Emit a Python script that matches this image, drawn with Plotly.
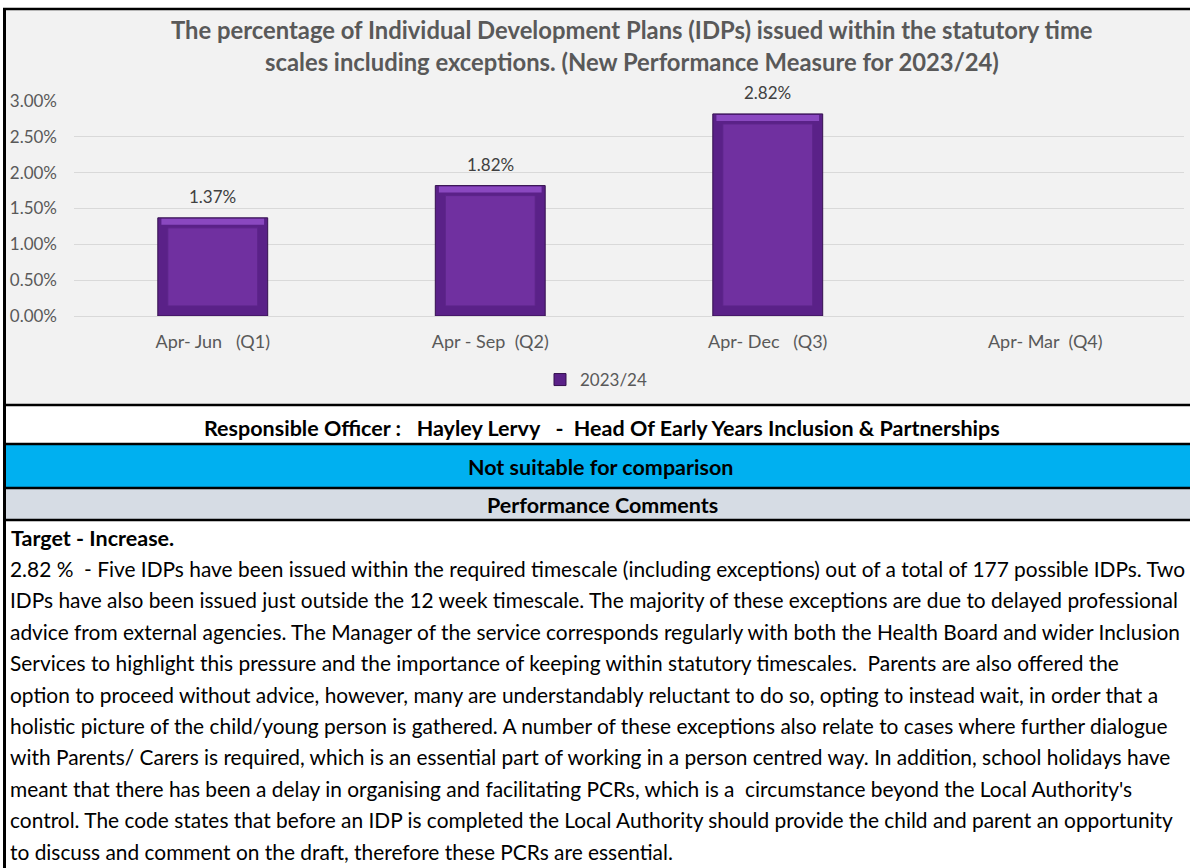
import plotly.graph_objects as go

NB = "\u00a0"
categories = ["Apr-" + NB + "Jun" + NB * 3 + "(Q1)",
              "Apr" + NB + "-" + NB + "Sep" + NB * 2 + "(Q2)",
              "Apr-" + NB + "Dec" + NB * 3 + "(Q3)",
              "Apr-" + NB + "Mar" + NB * 2 + "(Q4)"]
values = [0.0137, 0.0182, 0.0282, None]
series_name = "2023/24"
y_ticks = [0, 0.005, 0.01, 0.015, 0.02, 0.025, 0.03]

title_lines = ["The percentage of Individual Development Plans (IDPs) issued within the statutory time",
               "scales including exceptions. (New Performance Measure for 2023/24)"]
officer_text = ("Responsible Officer :" + NB * 3 + "Hayley Lervy" + NB * 3 + "-" + NB * 2 +
                "Head Of Early Years Inclusion & Partnerships")
comparison_text = "Not suitable for comparison"
comments_header = "Performance Comments"
target_text = "Target - Increase."
comment_lines = [
    "2.82 %" + NB + " - Five IDPs have been issued within the required timescale (including exceptions) out of a total of 177 possible IDPs. Two",
    "IDPs have also been issued just outside the 12 week timescale. The majority of these exceptions are due to delayed professional",
    "advice from external agencies. The Manager of the service corresponds regularly with both the Health Board and wider Inclusion",
    "Services to highlight this pressure and the importance of keeping within statutory timescales." + NB + " Parents are also offered the",
    "option to proceed without advice, however, many are understandably reluctant to do so, opting to instead wait, in order that a",
    "holistic picture of the child/young person is gathered. A number of these exceptions also relate to cases where further dialogue",
    "with Parents/ Carers is required, which is an essential part of working in a person centred way. In addition, school holidays have",
    "meant that there has been a delay in organising and facilitating PCRs, which is a" + NB + " circumstance beyond the Local Authority's",
    "control. The code states that before an IDP is completed the Local Authority should provide the child and parent an opportunity",
    "to discuss and comment on the draft, therefore these PCRs are essential.",
]

# ---- layout geometry (pixels) ----
W, H = 1190, 868
L, R = 74, 1184
T, B = 101, 316


def px(x):
    return (x - L) / (R - L)


def py(y):
    return (B - y) / (B - T)


FONT = "Lato"
GRAY = "#595959"
inset = 0.0014

fig = go.Figure()
fig.add_trace(go.Bar(x=categories, y=values, name=series_name, width=0.396,
                     marker=dict(color="#5A2188", line=dict(color="#35104F", width=1)),
                     showlegend=True, hoverinfo="skip"))
fig.add_trace(go.Bar(x=categories,
                     y=[inset * 0.6 if v is not None else None for v in values],
                     base=[v - inset * 0.7 if v is not None else None for v in values],
                     width=0.37, marker=dict(color="#8A48C0", line=dict(width=0)),
                     showlegend=False, hoverinfo="skip"))
fig.add_trace(go.Bar(x=categories,
                     y=[v - 2 * inset if v is not None else None for v in values],
                     base=[inset if v is not None else None for v in values],
                     width=0.324, marker=dict(color="#7030A0", line=dict(color="#5C2589", width=1)),
                     showlegend=False, hoverinfo="skip"))

annotations = []
for c, v in zip(categories, values):
    if v is None:
        continue
    annotations.append(dict(x=c, y=v, xref="x", yref="y", text=f"{v * 100:.2f}%",
                            showarrow=False, yshift=21, yanchor="middle",
                            font=dict(family=FONT, size=17, color="#404040")))

for i, (t, yy) in enumerate(zip(title_lines, [30, 62])):
    annotations.append(dict(x=px(632), y=py(yy), xref="paper", yref="paper", text="<b>" + t + "</b>",
                            showarrow=False, xanchor="center", yanchor="middle",
                            font=dict(family=FONT, size=23.8, color=GRAY)))

BIG = 21.5
annotations.append(dict(x=px(602), y=py(428), xref="paper", yref="paper", text="<b>" + officer_text + "</b>",
                        showarrow=False, xanchor="center", yanchor="middle",
                        font=dict(family=FONT, size=BIG, color="#000000")))
annotations.append(dict(x=px(600), y=py(467), xref="paper", yref="paper", text="<b>" + comparison_text + "</b>",
                        showarrow=False, xanchor="center", yanchor="middle",
                        font=dict(family=FONT, size=BIG, color="#000000")))
annotations.append(dict(x=px(602), y=py(504.5), xref="paper", yref="paper", text="<b>" + comments_header + "</b>",
                        showarrow=False, xanchor="center", yanchor="middle",
                        font=dict(family=FONT, size=BIG, color="#000000")))
annotations.append(dict(x=px(9), y=py(538), xref="paper", yref="paper", text="<b>" + target_text + "</b>",
                        showarrow=False, xanchor="left", yanchor="middle",
                        font=dict(family=FONT, size=BIG, color="#000000")))
for i, line in enumerate(comment_lines):
    annotations.append(dict(x=px(8), y=py(568.5 + i * 31.4), xref="paper", yref="paper", text=line,
                            showarrow=False, xanchor="left", yanchor="middle",
                            font=dict(family=FONT, size=20.9, color="#000000")))

shapes = [
    dict(type="rect", xref="paper", yref="paper", x0=px(5), x1=px(1190), y0=py(9), y1=py(405),
         fillcolor="#F2F2F2", line=dict(width=0), layer="below"),
    dict(type="rect", xref="paper", yref="paper", x0=px(5), x1=px(1190), y0=py(445), y1=py(487),
         fillcolor="#00B0F0", line=dict(width=0), layer="below"),
    dict(type="rect", xref="paper", yref="paper", x0=px(5), x1=px(1190), y0=py(489), y1=py(519),
         fillcolor="#D6DCE4", line=dict(width=0), layer="below"),
]
for yy, w in [(9, 2.5), (405, 2.5), (444, 2.5), (488, 2.5), (520, 2.5)]:
    shapes.append(dict(type="line", xref="paper", yref="paper", x0=px(3), x1=px(1190), y0=py(yy), y1=py(yy),
                       line=dict(color="#000000", width=w)))
shapes.append(dict(type="line", xref="paper", yref="paper", x0=px(4.5), x1=px(4.5), y0=py(8), y1=py(868),
                   line=dict(color="#000000", width=3)))

fig.update_layout(
    width=W, height=H,
    margin=dict(l=L, r=W - R, t=T, b=H - B, pad=0),
    paper_bgcolor="#FFFFFF", plot_bgcolor="#F2F2F2",
    barmode="overlay", bargap=0.6,
    font=dict(family=FONT, color=GRAY),
    showlegend=True,
    legend=dict(orientation="h", x=px(596), y=py(380), xanchor="center", yanchor="middle",
                bgcolor="rgba(0,0,0,0)", font=dict(family=FONT, size=17, color=GRAY),
                itemwidth=30),
    annotations=annotations, shapes=shapes,
    xaxis=dict(showgrid=False, showline=False, ticks="", tickfont=dict(family=FONT, size=18, color=GRAY),
               ticklabelstandoff=13, fixedrange=True),
    yaxis=dict(range=[0, 0.03], tickvals=y_ticks, tickformat=".2%", showgrid=True, gridcolor="#D9D9D9",
               gridwidth=1, zeroline=True, zerolinecolor="#D9D9D9", zerolinewidth=1, showline=False,
               ticks="", tickfont=dict(family=FONT, size=17, color=GRAY), ticklabelstandoff=16,
               fixedrange=True),
)

fig.write_html("out.html", config={"displayModeBar": False},
               post_script="document.body.style.margin='0';document.body.style.overflow='hidden';")
